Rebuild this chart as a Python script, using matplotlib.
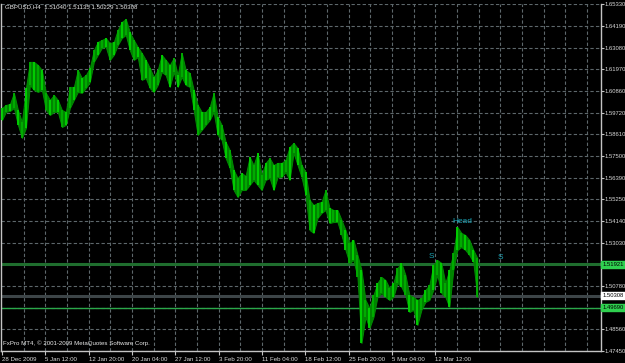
import numpy as np
import matplotlib
matplotlib.use("Agg")
from matplotlib import pyplot as plt
from matplotlib import transforms

# GBPUSD H4, sampled roughly every third bar (high / low of each group)
highs = [1.5998, 1.6014, 1.6019, 1.6076, 1.5988, 1.5926, 1.6101, 1.6236, 1.6236, 1.6220,
         1.6194, 1.6076, 1.6040, 1.6065, 1.6040, 1.5988, 1.5978, 1.6107, 1.6107, 1.6194,
         1.6153, 1.6168, 1.6205, 1.6297, 1.6339, 1.6349, 1.6359, 1.6333, 1.6339, 1.6401,
         1.6442, 1.6457, 1.6390, 1.6349, 1.6313, 1.6282, 1.6246, 1.6205, 1.6158, 1.6194,
         1.6272, 1.6246, 1.6220, 1.6256, 1.6168, 1.6282, 1.6194, 1.6179, 1.6091, 1.6014,
         1.5978, 1.5978, 1.6003, 1.6076, 1.5952, 1.5911, 1.5823, 1.5782, 1.5679, 1.5637,
         1.5663, 1.5648, 1.5746, 1.5704, 1.5766, 1.5653, 1.5715, 1.5740, 1.5704, 1.5715,
         1.5715, 1.5730, 1.5797, 1.5818, 1.5792, 1.5704, 1.5668, 1.5524, 1.5498, 1.5508,
         1.5514, 1.5575, 1.5483, 1.5472, 1.5472, 1.5421, 1.5369, 1.5302, 1.5318, 1.5240,
         1.5163, 1.5008, 1.4967, 1.5034, 1.5096, 1.5127, 1.5111, 1.5070, 1.5096, 1.5173,
         1.5199, 1.5137, 1.5034, 1.5024, 1.5008, 1.5018, 1.5060, 1.5086, 1.5189, 1.5214,
         1.5199, 1.5096, 1.5163, 1.5251, 1.5385, 1.5354, 1.5343, 1.5318, 1.5266, 1.5225]
lows = [1.5936, 1.5978, 1.5983, 1.5998, 1.5911, 1.5844, 1.5895, 1.6117, 1.6091, 1.6081,
        1.6091, 1.5988, 1.5962, 1.5978, 1.5978, 1.5900, 1.5911, 1.5998, 1.6040, 1.6081,
        1.6076, 1.6101, 1.6132, 1.6236, 1.6272, 1.6308, 1.6313, 1.6246, 1.6272, 1.6323,
        1.6359, 1.6375, 1.6297, 1.6246, 1.6261, 1.6143, 1.6153, 1.6101, 1.6081, 1.6117,
        1.6184, 1.6168, 1.6107, 1.6184, 1.6107, 1.6158, 1.6117, 1.6107, 1.5988, 1.5859,
        1.5885, 1.5911, 1.5936, 1.5978, 1.5859, 1.5833, 1.5740, 1.5689, 1.5575, 1.5539,
        1.5575, 1.5575, 1.5601, 1.5627, 1.5601, 1.5575, 1.5627, 1.5637, 1.5575, 1.5642,
        1.5642, 1.5668, 1.5627, 1.5766, 1.5704, 1.5642, 1.5550, 1.5369, 1.5354, 1.5431,
        1.5457, 1.5472, 1.5405, 1.5410, 1.5410, 1.5343, 1.5266, 1.5199, 1.5214, 1.5127,
        1.4786, 1.4920, 1.4864, 1.4920, 1.5024, 1.5044, 1.5024, 1.5008, 1.5024, 1.5096,
        1.5075, 1.5034, 1.4946, 1.4957, 1.4879, 1.4957, 1.4998, 1.5008, 1.5060, 1.5137,
        1.5044, 1.5024, 1.4972, 1.5163, 1.5266, 1.5281, 1.5266, 1.5240, 1.5204, 1.5023]

price_labels = ["1.65330", "1.64190", "1.63080", "1.61970", "1.60860", "1.59720",
                "1.58610", "1.57500", "1.56390", "1.55250", "1.54140", "1.53030",
                "", "1.50780", "", "1.48560", "1.47450"]
date_labels = ["28 Dec 2009", "5 Jan 12:00", "12 Jan 20:00", "20 Jan 04:00",
               "27 Jan 12:00", "3 Feb 20:00", "11 Feb 04:00", "18 Feb 12:00",
               "25 Feb 20:00", "5 Mar 04:00", "12 Mar 12:00"]

level_prices = ["1.51921", "1.50308", "1.49690"]
head_label = "Head"
shoulder_label = "S"

FONT = "Liberation Sans"
GRID = "#5d676b"
FS = 4.4
FS_Y = 4.2

fig = plt.figure(figsize=(6.25, 3.63), dpi=100, facecolor="black")
ax = fig.add_axes([1 / 625, 12 / 363, 600 / 625, 346.7 / 363], facecolor="black")

ymax, ymin = 1.65330, 1.47450
ax.set_ylim(ymin, ymax)
ax.set_xlim(-0.7, 442.4)

# grid (dashed), horizontal every tick, vertical every 16 bars
yticks = np.linspace(ymax, ymin, len(price_labels))
for y in yticks:
    ax.axhline(y, color=GRID, lw=0.8, ls=(0, (3, 2)), zorder=1)
for xv in np.arange(16, 442, 16):
    ax.axvline(xv, color=GRID, lw=0.8, ls=(0, (3, 2)), zorder=1)

# level lines
ax.axhline(float(level_prices[0]), color="#1f6e2e", lw=2.2, zorder=2)
ax.axhline(float(level_prices[1]), color="#3d4548", lw=2.2, zorder=2)
ax.axhline(float(level_prices[2]), color="#2aa84a", lw=1.0, zorder=2)

# price bars: a filled band between highs and lows with bar strokes on top
bars = np.arange(len(highs)) * 2.95
ax.fill_between(bars, lows, highs, color="#008400", lw=0.7, ec="#008c00", zorder=3)
cols = ["#00d400" if i % 2 == 0 else "#00b000" for i in range(len(highs))]
ax.vlines(bars, lows, highs, colors=cols, lw=1.3, zorder=3)

# pattern labels
ax.text(339.7, 1.5411, head_label, color="#1aa2b4", fontsize=6, family=FONT,
        ha="center", va="center", zorder=4)
ax.text(316.8, 1.5230, shoulder_label, color="#1aa2b4", fontsize=6, family=FONT,
        ha="center", va="center", zorder=4)
ax.text(367.8, 1.5225, shoulder_label, color="#1aa2b4", fontsize=6, family=FONT,
        ha="center", va="center", zorder=4)

# axes styling
for side in ["left", "bottom", "right"]:
    ax.spines[side].set_color("#c4c4c4")
    ax.spines[side].set_linewidth(1)
ax.spines["top"].set_visible(False)

ax.yaxis.tick_right()
ax.set_yticks(yticks)
ax.set_yticklabels(price_labels)
ax.tick_params(axis="y", colors="#c4c4c4", length=2, width=0.8, pad=0.5,
               labelsize=FS_Y, labelcolor="#d8d8d8")
ax.set_xticks(np.arange(len(date_labels)) * 32)
ax.set_xticklabels(date_labels, ha="left")
ax.tick_params(axis="x", colors="#c4c4c4", length=3, width=0.8, pad=1,
               labelsize=FS, labelcolor="#d8d8d8")
for lab in ax.get_xticklabels() + ax.get_yticklabels():
    lab.set_family(FONT)

# level price boxes on the right axis
trans = transforms.blended_transform_factory(ax.transAxes, ax.transData)
box_styles = [("#2fd04f", "black"), ("white", "black"), ("#2fd04f", "black")]
for txt, (bg, fg) in zip(level_prices, box_styles):
    ax.text(1.002, float(txt), txt, transform=trans, color=fg, fontsize=FS_Y,
            family=FONT, ha="left", va="center", clip_on=False, zorder=5,
            bbox=dict(boxstyle="square,pad=0.2", fc=bg, ec=bg))

fig.text(5 / 625, 1 - 7 / 363, "GBPUSD,H4  1.51040 1.51135 1.50229 1.50308",
         color="#e8e8e8", fontsize=FS, family=FONT, va="center")
fig.text(3 / 625, 1 - 343 / 363, "FxPro MT4, \u00a9 2001-2009 MetaQuotes Software Corp.",
         color="#e8e8e8", fontsize=FS, family=FONT, va="center")

fig.savefig("out.png", dpi=100, facecolor="black")
